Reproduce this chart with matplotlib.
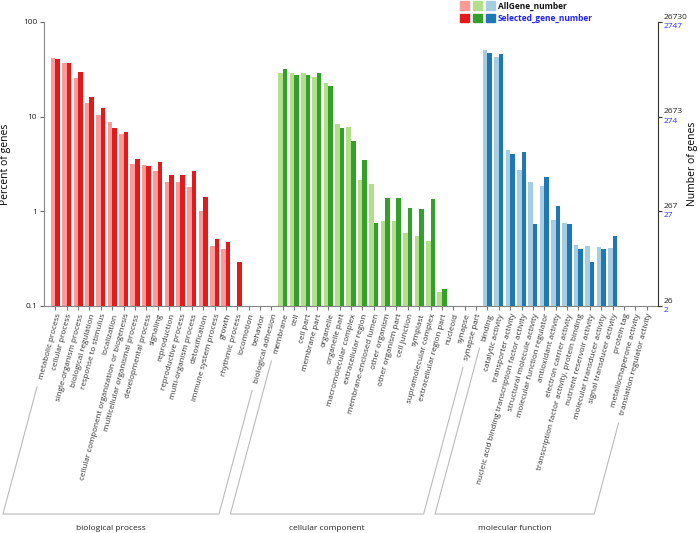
import numpy as np
import matplotlib.pyplot as plt
import matplotlib.transforms as mtransforms
from matplotlib.patches import Rectangle
from matplotlib.lines import Line2D

plt.rcParams['font.family'] = ['Open Sans', 'DejaVu Sans']

W, H = 700, 533

# GO terms per group
bp_terms = ["metabolic process", "cellular process", "single-organism process",
            "biological regulation", "response to stimulus", "localization",
            "cellular component organization or biogenesis",
            "multicellular organismal process", "developmental process", "signaling",
            "reproduction", "reproductive process", "multi-organism process",
            "detoxification", "immune system process", "growth", "rhythmic process",
            "locomotion", "behavior", "biological adhesion"]
cc_terms = ["membrane", "cell", "cell part", "membrane part", "organelle",
            "organelle part", "macromolecular complex", "extracellular region",
            "membrane-enclosed lumen", "other organism", "other organism part",
            "cell junction", "symplast", "supramolecular complex",
            "extracellular region part", "nucleoid", "synapse", "synapse part"]
mf_terms = ["binding", "catalytic activity", "transporter activity",
            "nucleic acid binding transcription factor activity",
            "structural molecule activity", "molecular function regulator",
            "antioxidant activity", "electron carrier activity",
            "transcription factor activity, protein binding",
            "nutrient reservoir activity", "molecular transducer activity",
            "signal transducer activity", "protein tag", "metallochaperone activity",
            "translation regulator activity"]

# percent of genes (0 = no bar)
bp_all = [41.8, 37.3, 25.9, 13.8, 10.3, 8.85, 6.5, 3.16, 3.1, 2.64, 2.04, 2.04,
          1.82, 1.01, 0.43, 0.40, 0, 0, 0, 0]
bp_sel = [40.8, 37.0, 29.9, 16.2, 12.4, 7.65, 6.82, 3.57, 2.98, 3.31, 2.43, 2.42,
          2.66, 1.42, 0.51, 0.475, 0.29, 0, 0, 0]
cc_all = [29.2, 28.9, 28.9, 26.5, 22.9, 8.36, 7.78, 2.14, 1.95, 0.79, 0.79, 0.59,
          0.55, 0.49, 0.14, 0, 0, 0]
cc_sel = [31.7, 27.4, 27.4, 29.2, 20.9, 7.65, 5.53, 3.45, 0.76, 1.37, 1.37, 1.09,
          1.05, 1.35, 0.15, 0, 0, 0]
mf_all = [50.8, 43.1, 4.48, 2.75, 2.02, 1.86, 0.81, 0.76, 0.44, 0.43, 0.42, 0.41,
          0, 0, 0]
mf_sel = [47.6, 46.1, 4.06, 4.26, 0.74, 2.28, 1.14, 0.74, 0.40, 0.29, 0.40, 0.55,
          0, 0, 0]

group_names = ["biological process", "cellular component", "molecular function"]
light_cols = ["#fb9a99", "#b2df8a", "#a6cee3"]
dark_cols = ["#e31a1c", "#33a02c", "#1f78b4"]

pct_ticks = [0.1, 1, 10, 100]
all_counts = ["26", "267", "2673", "26730"]
sel_counts = ["2", "27", "274", "2747"]

groups = [(bp_terms, bp_all, bp_sel), (cc_terms, cc_all, cc_sel), (mf_terms, mf_all, mf_sel)]

fig = plt.figure(figsize=(W / 100, H / 100), dpi=100)
ax = fig.add_axes([44 / W, 1 - 306 / H, 614 / W, 284 / H])

terms = []
spans = []
start = 0
for gi, (t, a, s) in enumerate(groups):
    x = np.arange(start, start + len(t))
    a = np.array(a, float); a[a == 0] = np.nan
    s = np.array(s, float); s[s == 0] = np.nan
    ax.bar(x - 0.2, a, width=0.4, color=light_cols[gi], linewidth=0)
    ax.bar(x + 0.2, s, width=0.4, color=dark_cols[gi], linewidth=0)
    terms += t
    spans.append((start, start + len(t) - 1))
    start += len(t)

ax.set_yscale('log')
ax.set_ylim(0.1, 100)
ax.set_xlim(-1, len(terms))
ax.set_yticks(pct_ticks)
ax.set_yticklabels(["0.1", "1", "10", "100"])
ax.yaxis.set_minor_locator(plt.NullLocator())
ax.tick_params(axis='y', labelsize=6, length=3, color='#666', labelcolor='#222', pad=2)
ax.set_xticks(range(len(terms)))
ax.set_xticklabels(terms, rotation=75, ha='right', va='top', rotation_mode='anchor',
                   fontsize=5.8, color='#333')
ax.tick_params(axis='x', length=3, color='#777', pad=2)
ax.spines['top'].set_visible(False)
ax.spines['right'].set_visible(False)
for sp in ['left', 'bottom']:
    ax.spines[sp].set_color('#888')

ax2 = ax.twinx()
ax2.set_yscale('log')
ax2.set_ylim(0.1, 100)
ax2.set_yticks(pct_ticks)
ax2.set_yticklabels([""] * 4)
ax2.yaxis.set_minor_locator(plt.NullLocator())
ax2.tick_params(axis='y', length=3, color='#333')
for sp in ['top', 'left', 'bottom']:
    ax2.spines[sp].set_visible(False)
ax2.spines['right'].set_color('#333')

trans = mtransforms.blended_transform_factory(ax.transAxes, ax.transData)
for v, ca, cs in zip(pct_ticks, all_counts, sel_counts):
    ax.annotate(ca, xy=(1, v), xycoords=trans, xytext=(3.8, 3.4), textcoords='offset points',
                ha='left', va='center', fontsize=6, color='#222', annotation_clip=False)
    ax.annotate(cs, xy=(1, v), xycoords=trans, xytext=(3.8, -3.2), textcoords='offset points',
                ha='left', va='center', fontsize=6, color='#3030ff', annotation_clip=False)

fig.text(6 / W, 1 - 164 / H, "Percent of genes", rotation=90, ha='center', va='center', fontsize=7.5)
fig.text(692 / W, 1 - 164 / H, "Number of genes", rotation=90, ha='center', va='center', fontsize=7.5)

# legend squares
for k in range(3):
    fig.patches.append(Rectangle(((460 + 13 * k) / W, 1 - 10 / H), 8.5 / W, 8.5 / H,
                                 transform=fig.transFigure, color=light_cols[k]))
    fig.patches.append(Rectangle(((460 + 13 * k) / W, 1 - 22 / H), 8.5 / W, 8.5 / H,
                                 transform=fig.transFigure, color=dark_cols[k]))
fig.text(498 / W, 1 - 6 / H, "AllGene_number", fontsize=6, weight='bold', va='center', color='#111')
fig.text(498 / W, 1 - 18 / H, "Selected_gene_number", fontsize=6, weight='bold', va='center', color='#2020ff')

# group brackets along the label direction
fig.canvas.draw()
rend = fig.canvas.get_renderer()
labels = ax.get_xticklabels()
yb = ax.transAxes.transform((0, 0))[1]
cot = 1 / np.tan(np.radians(75))
ybot = H - 514
inv = fig.transFigure.inverted()

def slant(i):
    tx = ax.transData.transform((i, 0.1))[0] + 3.3
    ytop = labels[i].get_window_extent(rend).y0 - 6.5
    xt = tx + (ytop - yb) * cot
    xb = tx + (ybot - yb) * cot
    return (xt, ytop), (xb, ybot)

for gi, (i0, i1) in enumerate(spans):
    (lx0, ly0), (lx1, ly1) = slant(i0)
    (rx0, ry0), (rx1, ry1) = slant(i1)
    pts = inv.transform([(lx0, ly0), (lx1, ly1), (rx1, ry1), (rx0, ry0)])
    fig.add_artist(Line2D(pts[:, 0], pts[:, 1], color='#bbbbbb', lw=0.8,
                          transform=fig.transFigure))
    xc = (lx1 + rx1) / 2
    fig.text(xc / W, 1 - 528 / H, group_names[gi], ha='center', va='center', fontsize=6, color='#222')

fig.savefig("out.png", dpi=100)
